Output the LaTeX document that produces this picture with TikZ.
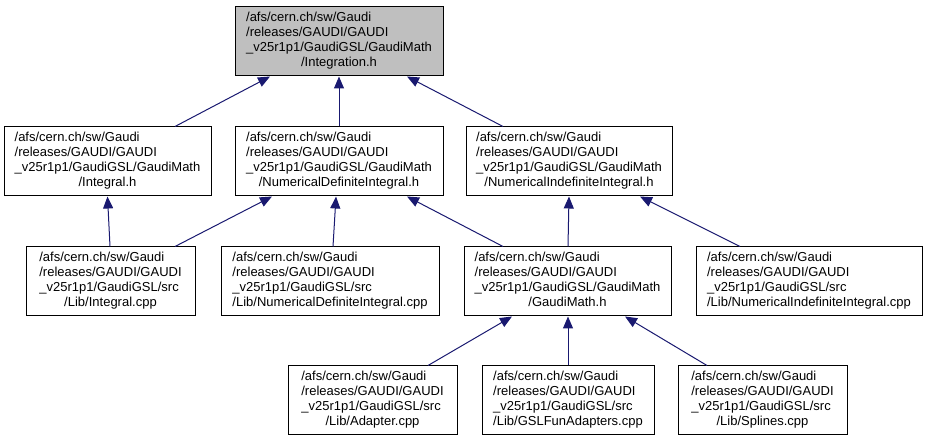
\documentclass[tikz,border=0pt]{standalone}
\usepackage{fontspec}
\setmainfont{Liberation Sans}
\usetikzlibrary{arrows.meta}
\definecolor{edgeblue}{HTML}{191970}
\definecolor{topgray}{HTML}{BFBFBF}
\newcommand\nlab[4]{\begin{tabular}{@{}l@{}}#1\\#2\\#3\\\multicolumn{1}{@{}c@{}}{#4}\end{tabular}}
\tikzset{
  filebox/.style={draw=black, line width=1pt, fill=white, inner xsep=0pt, inner ysep=0pt,
    minimum height=69pt, font=\fontsize{13}{15}\selectfont},
  dep/.style={draw=edgeblue, line width=1pt, -{Triangle[length=12pt,width=10pt]}, fill=none}
}
\begin{document}
\begin{tikzpicture}[x=1pt,y=1pt]
\useasboundingbox (0,0) rectangle (928,443);
% row 1
\node[filebox, fill=topgray, minimum width=208pt] (top) at (339,401.5)
  {\nlab{/afs/cern.ch/sw/Gaudi}{/releases/GAUDI/GAUDI}{\_v25r1p1/GaudiGSL/GaudiMath}{/Integration.h}};
% row 2
\node[filebox, minimum width=207pt] (inth) at (107.5,281.5)
  {\nlab{/afs/cern.ch/sw/Gaudi}{/releases/GAUDI/GAUDI}{\_v25r1p1/GaudiGSL/GaudiMath}{/Integral.h}};
\node[filebox, minimum width=208pt] (ndih) at (339,281.5)
  {\nlab{/afs/cern.ch/sw/Gaudi}{/releases/GAUDI/GAUDI}{\_v25r1p1/GaudiGSL/GaudiMath}{/NumericalDefiniteIntegral.h}};
\node[filebox, minimum width=206pt] (niih) at (569,281.5)
  {\nlab{/afs/cern.ch/sw/Gaudi}{/releases/GAUDI/GAUDI}{\_v25r1p1/GaudiGSL/GaudiMath}{/NumericalIndefiniteIntegral.h}};
% row 3
\node[filebox, minimum width=169pt] (intcpp) at (110.5,161.5)
  {\nlab{/afs/cern.ch/sw/Gaudi}{/releases/GAUDI/GAUDI}{\_v25r1p1/GaudiGSL/src}{/Lib/Integral.cpp}};
\node[filebox, minimum width=218pt] (ndicpp) at (330,161.5)
  {\nlab{/afs/cern.ch/sw/Gaudi}{/releases/GAUDI/GAUDI}{\_v25r1p1/GaudiGSL/src}{/Lib/NumericalDefiniteIntegral.cpp}};
\node[filebox, minimum width=207pt] (gmh) at (567.5,161.5)
  {\nlab{/afs/cern.ch/sw/Gaudi}{/releases/GAUDI/GAUDI}{\_v25r1p1/GaudiGSL/GaudiMath}{/GaudiMath.h}};
\node[filebox, minimum width=226pt] (niicpp) at (809,161.5)
  {\nlab{/afs/cern.ch/sw/Gaudi}{/releases/GAUDI/GAUDI}{\_v25r1p1/GaudiGSL/src}{/Lib/NumericalIndefiniteIntegral.cpp}};
% row 4
\node[filebox, minimum width=169pt] (adcpp) at (372.5,42.5)
  {\nlab{/afs/cern.ch/sw/Gaudi}{/releases/GAUDI/GAUDI}{\_v25r1p1/GaudiGSL/src}{/Lib/Adapter.cpp}};
\node[filebox, minimum width=172pt] (gslcpp) at (568,42.5)
  {\nlab{/afs/cern.ch/sw/Gaudi}{/releases/GAUDI/GAUDI}{\_v25r1p1/GaudiGSL/src}{/Lib/GSLFunAdapters.cpp}};
\node[filebox, minimum width=169pt] (splcpp) at (762.5,42.5)
  {\nlab{/afs/cern.ch/sw/Gaudi}{/releases/GAUDI/GAUDI}{\_v25r1p1/GaudiGSL/src}{/Lib/Splines.cpp}};
% edges
\draw[dep] ([xshift=67.5pt]inth.north) -- ([xshift=-69pt]top.south);
\draw[dep] (ndih.north) -- (top.south);
\draw[dep] ([xshift=-66pt]niih.north) -- ([xshift=68pt]top.south);
\draw[dep] ([xshift=-0.5pt]intcpp.north) -- (inth.south);
\draw[dep] ([xshift=64.5pt]intcpp.north) -- ([xshift=-67pt]ndih.south);
\draw[dep] ([xshift=3pt]ndicpp.north) -- ([xshift=-3pt]ndih.south);
\draw[dep] ([xshift=-64.5pt]gmh.north) -- ([xshift=68pt]ndih.south);
\draw[dep] ([xshift=0.5pt]gmh.north) -- (niih.south);
\draw[dep] ([xshift=-69pt]niicpp.north) -- ([xshift=71pt]niih.south);
\draw[dep] ([xshift=55.5pt]adcpp.north) -- ([xshift=-55.5pt]gmh.south);
\draw[dep] (gslcpp.north) -- ([xshift=0.5pt]gmh.south);
\draw[dep] ([xshift=-55.5pt]splcpp.north) -- ([xshift=57.5pt]gmh.south);
\end{tikzpicture}
\end{document}
